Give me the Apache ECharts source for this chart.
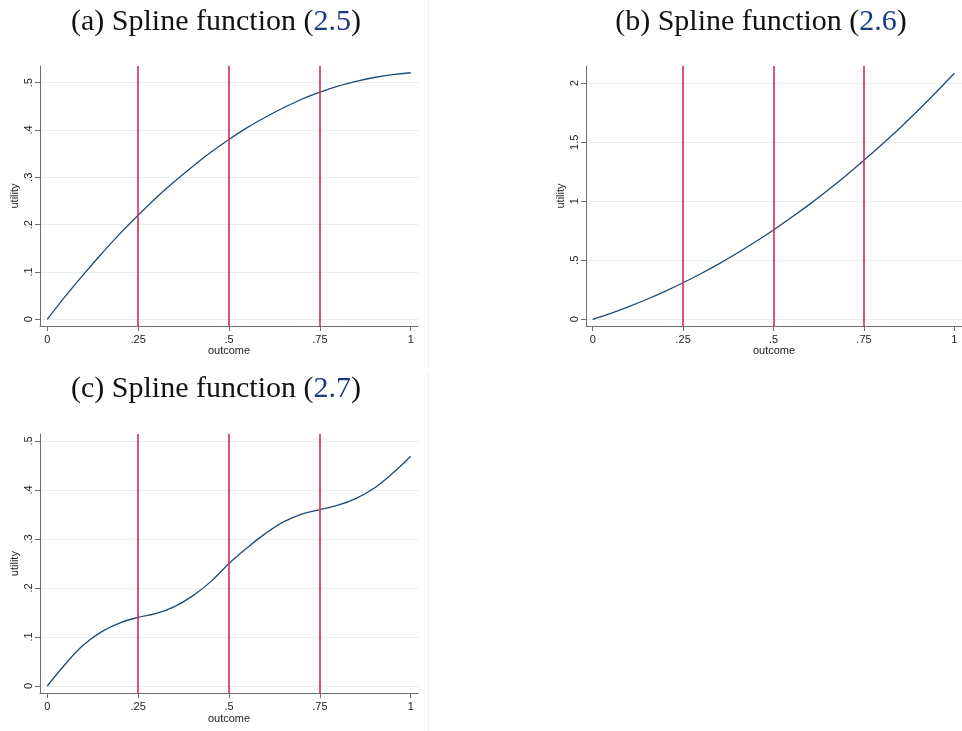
<!DOCTYPE html>
<html>
<head>
<meta charset="utf-8">
<script src="https://cdn.jsdelivr.net/npm/echarts@6/dist/echarts.min.js"></script>
<style>html,body{margin:0;padding:0;background:#fff;}#c{width:962px;height:731px;}</style>
</head>
<body>
<div id="c"></div>
<script>
// ---- data ----
const xs = [0,0.05,0.1,0.15,0.2,0.25,0.3,0.35,0.4,0.45,0.5,0.55,0.6,0.65,0.7,0.75,0.8,0.85,0.9,0.95,1];
const utilA = [0,0.049,0.095,0.139,0.181,0.220,0.257,0.291,0.323,0.353,0.380,0.405,0.427,0.447,0.465,0.480,0.493,0.503,0.511,0.517,0.521];
const utilB = [0,0.051,0.108,0.170,0.237,0.310,0.388,0.472,0.562,0.657,0.757,0.864,0.976,1.094,1.217,1.347,1.483,1.624,1.772,1.926,2.085];
const utilC = [0,0.045,0.084,0.111,0.129,0.140,0.148,0.162,0.184,0.213,0.250,0.282,0.311,0.335,0.351,0.360,0.369,0.383,0.404,0.434,0.469];
const knots = [0.25, 0.5, 0.75];
const xTicks = [0, 0.25, 0.5, 0.75, 1];
const yTicksA = [0, 0.1, 0.2, 0.3, 0.4, 0.5];
const yTicksB = [0, 0.5, 1, 1.5, 2];
const yTicksC = [0, 0.1, 0.2, 0.3, 0.4, 0.5];
const titles = [["(a) Spline function (", "2.5", ")"], ["(b) Spline function (", "2.6", ")"], ["(c) Spline function (", "2.7", ")"]];

const fmt = v => (v === 0 ? '0' : String(+v.toFixed(3)).replace(/^0\./, '.'));
const AXIS = '#6e6e6e', GRIDC = '#e6eff0', RED = '#d62d57', NAVY = '#1f4a73';
const lab = {fontFamily: 'Liberation Sans, Arial, sans-serif', fontSize: 11, color: '#222'};

const grids = [
  {left: 40, top: 66, width: 378, height: 260},
  {left: 586, top: 66, width: 376, height: 260},
  {left: 40, top: 434, width: 378, height: 259.3}
];
const xr = [[-0.02, 1.02], [-0.0185, 1.021], [-0.02, 1.02]];
const yr = [[-0.0142, 0.5353], [-0.0568, 2.1466], [-0.0149, 0.5143]];
const yt = [yTicksA, yTicksB, yTicksC];
const ys = [utilA, utilB, utilC];

const xAxes = [], yAxes = [], series = [];
for (let i = 0; i < 3; i++) {
  xAxes.push({
    type: 'value', gridIndex: i, min: xr[i][0], max: xr[i][1],
    name: 'outcome', nameLocation: 'middle', nameGap: 18,
    nameTextStyle: Object.assign({}, lab),
    axisLine: {show: true, onZero: false, lineStyle: {color: AXIS, width: 1}},
    axisTick: {show: true, length: 5, customValues: xTicks, lineStyle: {color: AXIS}},
    axisLabel: Object.assign({customValues: xTicks, formatter: fmt, margin: 8}, lab),
    splitLine: {show: false}
  });
  yAxes.push({
    type: 'value', gridIndex: i, min: yr[i][0], max: yr[i][1],
    name: 'utility', nameLocation: 'middle', nameGap: 20,
    nameTextStyle: Object.assign({}, lab),
    axisLine: {show: true, onZero: false, lineStyle: {color: AXIS, width: 1}},
    axisTick: {show: true, length: 5, customValues: yt[i], lineStyle: {color: AXIS}},
    axisLabel: Object.assign({customValues: yt[i], formatter: fmt, rotate: 90, margin: 6}, lab),
    splitLine: {show: true, lineStyle: {color: GRIDC, width: 1}}
  });
  series.push({
    type: 'line', xAxisIndex: i, yAxisIndex: i,
    data: xs.map((x, k) => [x, ys[i][k]]),
    smooth: 0.4, showSymbol: false, silent: true,
    lineStyle: {color: NAVY, width: 1.3},
    markLine: {
      silent: true, symbol: 'none', label: {show: false},
      lineStyle: {type: 'solid', color: RED, width: 1.6},
      data: knots.map(k => ({xAxis: k}))
    },
    z: 3
  });
}

const tpos = [[216, 22], [761, 22], [216, 389]];
const graphic = titles.map((t, i) => ({
  type: 'text', x: tpos[i][0], y: tpos[i][1],
  style: {
    text: '{a|' + t[0] + '}{b|' + t[1] + '}{a|' + t[2] + '}',
    align: 'center', verticalAlign: 'middle',
    rich: {
      a: {fontFamily: 'Liberation Serif, serif', fontSize: 30, fill: '#111', color: '#111'},
      b: {fontFamily: 'Liberation Serif, serif', fontSize: 30, fill: '#1b3a86', color: '#1b3a86'}
    }
  }
}));
graphic.push({type: 'line', shape: {x1: 428.5, y1: 0, x2: 428.5, y2: 367}, style: {stroke: '#f0f0f0', lineWidth: 1}});
graphic.push({type: 'line', shape: {x1: 428.5, y1: 372, x2: 428.5, y2: 731}, style: {stroke: '#f0f0f0', lineWidth: 1}});

const chart = echarts.init(document.getElementById('c'), null, {renderer: 'canvas'});
chart.setOption({
  animation: false,
  backgroundColor: '#fff',
  grid: grids,
  xAxis: xAxes,
  yAxis: yAxes,
  series: series,
  graphic: graphic
});
</script>
</body>
</html>
